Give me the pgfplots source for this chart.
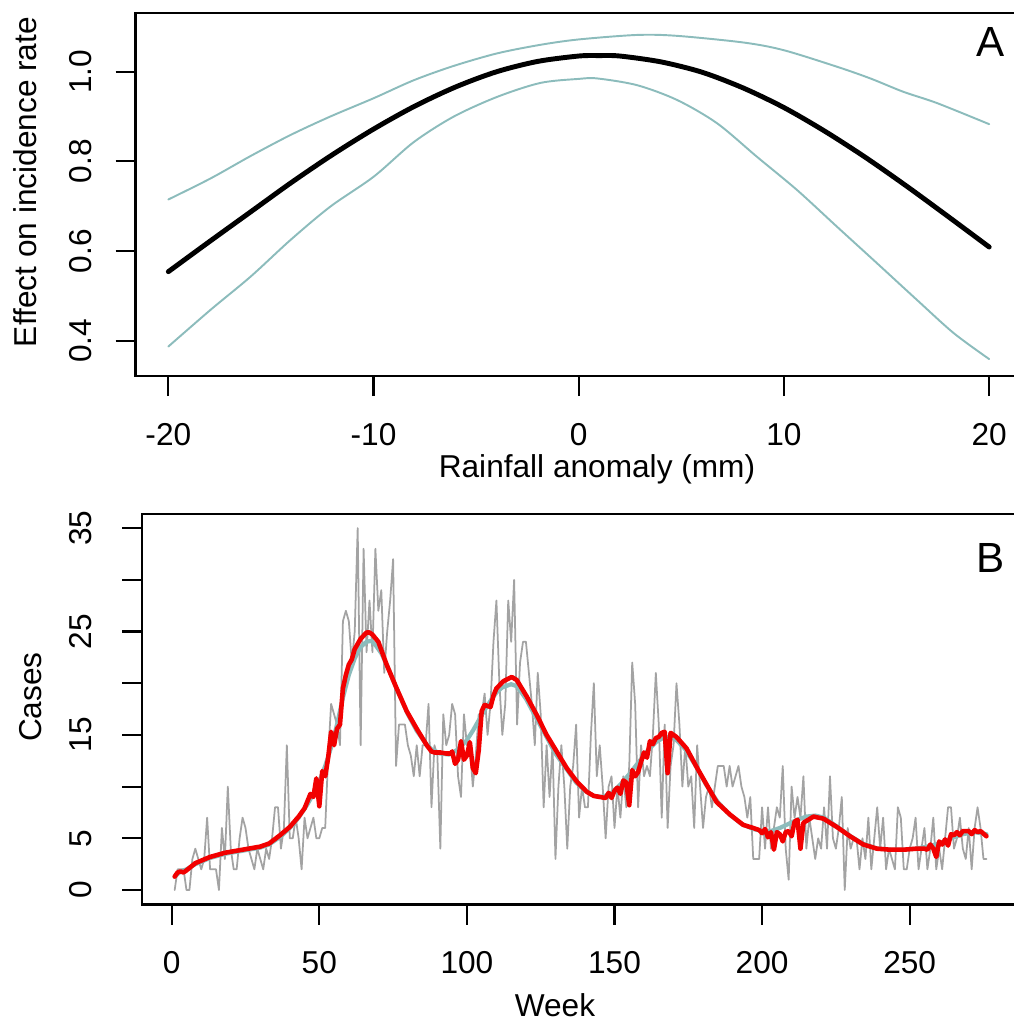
\documentclass[border=0pt]{standalone}
\usepackage{fontspec}
\setmainfont{Liberation Sans}
\usepackage{pgfplots}
\pgfplotsset{compat=1.18}
\usepackage{pgfplotstable}
\definecolor{band}{HTML}{8CBCBC}
\definecolor{obs}{HTML}{A3A3A3}
\definecolor{fitred}{HTML}{F20000}

\pgfplotsset{rplot/.style={
    scale only axis, anchor=north west,
    axis line style={line width=0.6pt},
    tick style={line width=0.6pt, black},
    tick align=outside, tick pos=left,
    major tick length=2mm,
    tick label style={font=\fontsize{9}{10}\selectfont},
    xticklabel style={anchor=base}, xticklabel shift=4.9mm,
    yticklabel style={rotate=90, anchor=base}, yticklabel shift=3.05mm,
    every axis plot/.append style={line cap=round, line join=round},
}}

% observed weekly cases
\pgfplotstableread[row sep=\\]{
w v\\
1 0\\ 2 2\\ 3 2\\ 4 2\\ 5 0\\ 6 0\\ 7 3\\ 8 4\\ 9 3\\ 10 2\\
11 3\\ 12 7\\ 13 2\\ 14 2\\ 15 2\\ 16 0\\ 17 6\\ 18 3\\ 19 10\\ 20 4\\
21 2\\ 22 2\\ 23 5\\ 24 7\\ 25 6\\ 26 4\\ 27 3\\ 28 2\\ 29 4\\ 30 3\\
31 2\\ 32 4\\ 33 3\\ 34 5\\ 35 8\\ 36 8\\ 37 4\\ 38 6\\ 39 14\\ 40 5\\
41 5\\ 42 7\\ 43 5\\ 44 2\\ 45 7\\ 46 5\\ 47 6\\ 48 7\\ 49 5\\ 50 5\\
51 6\\ 52 6\\ 53 13\\ 54 18\\ 55 17\\ 56 16\\ 57 14\\ 58 26\\ 59 27\\ 60 26\\
61 22\\ 62 25\\ 63 35\\ 64 14\\ 65 33\\ 66 23\\ 67 28\\ 68 23\\ 69 33\\ 70 27\\
71 29\\ 72 21\\ 73 25\\ 74 28\\ 75 32\\ 76 12\\ 77 16\\ 78 16\\ 79 16\\ 80 14\\
81 13\\ 82 11\\ 83 14\\ 84 11\\ 85 14\\ 86 14\\ 87 18\\ 88 8\\ 89 14\\ 90 13\\
91 4\\ 92 17\\ 93 14\\ 94 15\\ 95 18\\ 96 17\\ 97 11\\ 98 9\\ 99 17\\ 100 14\\
101 14\\ 102 10\\ 103 13\\ 104 17\\ 105 17\\ 106 19\\ 107 15\\ 108 18\\ 109 24\\ 110 28\\
111 20\\ 112 15\\ 113 18\\ 114 28\\ 115 24\\ 116 30\\ 117 16\\ 118 22\\ 119 24\\ 120 24\\
121 21\\ 122 18\\ 123 14\\ 124 21\\ 125 17\\ 126 8\\ 127 14\\ 128 9\\ 129 14\\ 130 3\\
131 10\\ 132 14\\ 133 10\\ 134 4\\ 135 10\\ 136 12\\ 137 16\\ 138 7\\ 139 10\\ 140 8\\
141 8\\ 142 15\\ 143 20\\ 144 11\\ 145 14\\ 146 10\\ 147 5\\ 148 10\\ 149 11\\ 150 6\\
151 10\\ 152 7\\ 153 11\\ 154 8\\ 155 12\\ 156 22\\ 157 18\\ 158 8\\ 159 14\\ 160 11\\
161 12\\ 162 11\\ 163 15\\ 164 21\\ 165 16\\ 166 7\\ 167 16\\ 168 6\\ 169 12\\ 170 14\\
171 20\\ 172 16\\ 173 10\\ 174 14\\ 175 10\\ 176 11\\ 177 6\\ 178 14\\ 179 10\\ 180 6\\
181 9\\ 182 10\\ 183 8\\ 184 10\\ 185 12\\ 186 12\\ 187 12\\ 188 10\\ 189 12\\ 190 10\\
191 11\\ 192 12\\ 193 10\\ 194 9\\ 195 7\\ 196 9\\ 197 3\\ 198 3\\ 199 3\\ 200 8\\
201 4\\ 202 8\\ 203 4\\ 204 6\\ 205 8\\ 206 7\\ 207 12\\ 208 4\\ 209 1\\ 210 10\\
211 7\\ 212 9\\ 213 7\\ 214 11\\ 215 4\\ 216 7\\ 217 5\\ 218 3\\ 219 5\\ 220 4\\
221 8\\ 222 4\\ 223 11\\ 224 5\\ 225 4\\ 226 6\\ 227 9\\ 228 0\\ 229 6\\ 230 4\\
231 5\\ 232 5\\ 233 2\\ 234 5\\ 235 3\\ 236 7\\ 237 2\\ 238 5\\ 239 8\\ 240 4\\
241 7\\ 242 2\\ 243 4\\ 244 3\\ 245 2\\ 246 8\\ 247 7\\ 248 2\\ 249 2\\ 250 4\\
251 5\\ 252 7\\ 253 2\\ 254 4\\ 255 6\\ 256 2\\ 257 4\\ 258 7\\ 259 2\\ 260 4\\
261 2\\ 262 5\\ 263 8\\ 264 8\\ 265 4\\ 266 5\\ 267 7\\ 268 4\\ 269 3\\ 270 6\\
271 2\\ 272 6\\ 273 8\\ 274 6\\ 275 3\\ 276 3\\
}\obs

% smooth fit (cyan)
\pgfplotstableread[row sep=\\]{
w v\\
1 1.3\\ 3 1.8\\ 5 2.0\\ 8 2.5\\ 13 3.1\\ 18 3.5\\ 24 3.8\\ 30 4.1\\ 33 4.4\\ 37 5.2\\
40 6.0\\ 43 7.0\\ 46 8.3\\ 48 9.3\\ 50 10.5\\ 52 12.0\\ 54 13.8\\ 56 16.0\\ 58 18.6\\ 60 20.8\\
62 22.4\\ 64 23.5\\ 66 24.0\\ 67.5 24.1\\ 69 23.7\\ 71 22.9\\ 73 21.7\\ 76 19.6\\ 80 17.0\\ 83 15.4\\
86 14.2\\ 88 13.6\\ 91 13.2\\ 94 13.1\\ 97 13.6\\ 100 14.5\\ 102 15.4\\ 104 16.4\\ 106 17.4\\ 108 18.3\\
110 19.1\\ 112 19.6\\ 115 19.9\\ 117 19.7\\ 120 18.5\\ 123 16.9\\ 127 14.8\\ 130 13.2\\ 134 11.6\\ 137 10.4\\
140 9.6\\ 143 9.1\\ 146 9.0\\ 149 9.4\\ 152 10.2\\ 155 11.2\\ 158 12.3\\ 161 13.4\\ 164 14.3\\ 167 14.8\\
169 14.8\\ 171 14.5\\ 174 13.6\\ 178 11.8\\ 181 10.2\\ 185 8.5\\ 189 7.3\\ 193 6.4\\ 197 5.9\\ 200 5.7\\
203 5.7\\ 206 6.0\\ 209 6.4\\ 212 6.8\\ 215 7.1\\ 218 7.2\\ 221 7.0\\ 225 6.2\\ 230 5.2\\ 234 4.5\\
239 4.0\\ 244 3.9\\ 248 3.9\\ 252 4.0\\ 256 4.2\\ 260 4.5\\ 264 5.0\\ 268 5.4\\ 272 5.6\\ 276 5.4\\
}\smoothfit

% fitted (red)
\pgfplotstableread[row sep=\\]{
w v\\
1 1.3\\ 2 1.7\\ 3 1.8\\ 4 1.7\\ 5 1.9\\ 8 2.6\\ 13 3.2\\ 18 3.6\\ 24 3.9\\ 30 4.2\\
33 4.5\\ 36.7 5.3\\ 40 6.1\\ 43 7.1\\ 44 7.5\\ 45 7.9\\ 46 8.6\\ 47 9.3\\ 48 9.0\\ 49 10.8\\
50 8.1\\ 51 11.5\\ 52 11.0\\ 53 12.8\\ 54 15.3\\ 55 14.0\\ 56 15.6\\ 57 16.0\\ 58 19.5\\ 59 20.8\\
60 21.8\\ 61 22.3\\ 62 23.3\\ 63 23.8\\ 64 24.3\\ 65 24.6\\ 66 24.9\\ 67 24.9\\ 68 24.7\\ 70 24.0\\
72.8 21.8\\ 76.2 19.5\\ 79.6 17.3\\ 83 15.6\\ 86.4 14.0\\ 88 13.4\\ 89 13.3\\ 91 13.3\\ 93 13.2\\ 94.5 13.2\\
95 13.4\\ 96 12.2\\ 97 12.6\\ 98 14.4\\ 99 12.6\\ 100 13.0\\ 101 14.3\\ 102 11.8\\ 103 11.3\\ 104 13.5\\
105 17.3\\ 106 17.9\\ 107 17.8\\ 108 17.7\\ 109 18.8\\ 110 19.5\\ 112.4 20.2\\ 115.2 20.6\\ 116.9 20.3\\ 120.3 18.7\\
123.7 16.9\\ 127 15.0\\ 130.4 13.4\\ 133.8 11.8\\ 137.2 10.5\\ 140.6 9.5\\ 143 9.1\\ 145 9.0\\ 147 8.9\\ 148 9.4\\
149 8.9\\ 150 9.6\\ 151 9.9\\ 152 9.3\\ 153 10.6\\ 154 10.4\\ 155 8.2\\ 156 11.6\\ 157 11.0\\ 158 11.4\\
159 12.4\\ 160 13.3\\ 161 12.8\\ 162 14.4\\ 163 14.1\\ 164 14.7\\ 165 14.8\\ 166 15.2\\ 167 15.3\\ 168 11.3\\
169 15.2\\ 171 14.8\\ 174.4 13.7\\ 177.8 11.9\\ 181.2 10.2\\ 184.6 8.5\\ 189.1 7.3\\ 193.6 6.3\\ 197 6.0\\ 199 5.8\\
200 5.5\\ 201 5.9\\ 202 5.1\\ 203 5.6\\ 204 3.9\\ 205 5.6\\ 206 5.4\\ 207 4.7\\ 208 5.6\\ 209 5.7\\
210 5.2\\ 211 6.6\\ 212 6.8\\ 213 4.0\\ 214 6.5\\ 217.4 7.1\\ 220.8 6.9\\ 225.3 6.1\\ 229.8 5.2\\ 234.3 4.4\\
238.9 4.0\\ 243.4 3.9\\ 247.9 3.9\\ 252.4 4.0\\ 255 4.0\\ 256 3.9\\ 257 4.4\\ 258 4.0\\ 259 3.2\\ 260 4.7\\
261 4.4\\ 262 4.9\\ 263 4.3\\ 264 5.4\\ 265 5.3\\ 266 5.6\\ 267 5.3\\ 268 5.7\\ 270 5.7\\ 271 5.4\\
272 5.8\\ 273 5.6\\ 274 5.7\\ 276 5.2\\
}\redfit

\begin{document}
\begin{tikzpicture}
\useasboundingbox (0,0) rectangle (101.4mm,-102.5mm);

% ---- panel A ----
\begin{axis}[rplot,
    at={(13.55mm,-1.33mm)}, width=88.65mm, height=36.27mm,
    xmin=-21.6, xmax=21.6, ymin=0.3213, ymax=1.1303,
    xtick={-20,-10,0,10,20}, xticklabels={-20,-10,0,10,20},
    ytick={0.4,0.6,0.8,1.0}, yticklabels={0.4,0.6,0.8,1.0},
    yticklabel shift=2.4mm,
]
\addplot[band, line width=0.55pt, smooth] coordinates {
    (-20,0.715) (-17.94,0.762) (-15.99,0.812) (-14.04,0.859) (-12.11,0.900)
    (-9.99,0.941) (-8.04,0.981) (-6.09,1.013) (-3.97,1.041) (-1.87,1.060)
    (0,1.072) (2.84,1.082) (4.79,1.080) (8.05,1.065) (9.99,1.048)
    (12.59,1.011) (14.21,0.985) (15.83,0.955) (17.46,0.930) (20,0.883)};
\addplot[band, line width=0.55pt, smooth] coordinates {
    (-20,0.387) (-17.94,0.469) (-15.99,0.543) (-14.04,0.625) (-12.11,0.699)
    (-9.99,0.766) (-8.04,0.843) (-6.09,0.900) (-3.97,0.944) (-1.87,0.975)
    (0,0.984) (0.90,0.985) (2.84,0.970) (4.79,0.937) (6.74,0.885)
    (8.69,0.810) (10.64,0.736) (12.59,0.654) (14.53,0.573) (16.48,0.491)
    (18.27,0.417) (20,0.359)};
\addplot[black, line width=1.4pt, smooth] coordinates {
    (-20,0.554) (-18,0.621) (-16,0.687) (-14,0.753) (-12,0.815)
    (-10,0.872) (-8,0.923) (-6,0.966) (-4,1.000) (-2,1.023)
    (0,1.035) (1,1.036) (2,1.035) (4,1.022) (6,0.999)
    (8,0.964) (10,0.920) (12,0.867) (14,0.808) (16,0.744)
    (18,0.677) (20,0.609)};
\end{axis}

% ---- panel B ----
\begin{axis}[rplot,
    at={(14.22mm,-51.36mm)}, width=87.67mm, height=39.09mm,
    xmin=-10, xmax=287, ymin=-1.4, ymax=36.4,
    xtick={0,50,100,150,200,250}, xticklabels={0,50,100,150,200,250},
    ytick={0,5,...,35}, yticklabels={0,5,,15,,25,,35},
]
\addplot[obs, line width=0.5pt] table[x=w, y=v] {\obs};
\addplot[band, line width=1.2pt] table[x=w, y=v] {\smoothfit};
\addplot[fitred, line width=1.3pt] table[x=w, y=v] {\redfit};
\end{axis}

% ---- axis titles and panel letters ----
\begin{scope}[font=\fontsize{9}{10}\selectfont]
\node[anchor=base] at (59.7mm,-47.7mm) {Rainfall anomaly (mm)};
\node[anchor=base] at (55.5mm,-101.6mm) {Week};
\node[rotate=90, anchor=base] at (3.7mm,-18.2mm) {Effect on incidence rate};
\node[rotate=90, anchor=base] at (4.17mm,-69.7mm) {Cases};
\end{scope}
\node[anchor=base, font=\fontsize{12}{14}\selectfont] at (99.1mm,-5.67mm) {A};
\node[anchor=base, font=\fontsize{12}{14}\selectfont] at (99.1mm,-57.2mm) {B};
\end{tikzpicture}
\end{document}
